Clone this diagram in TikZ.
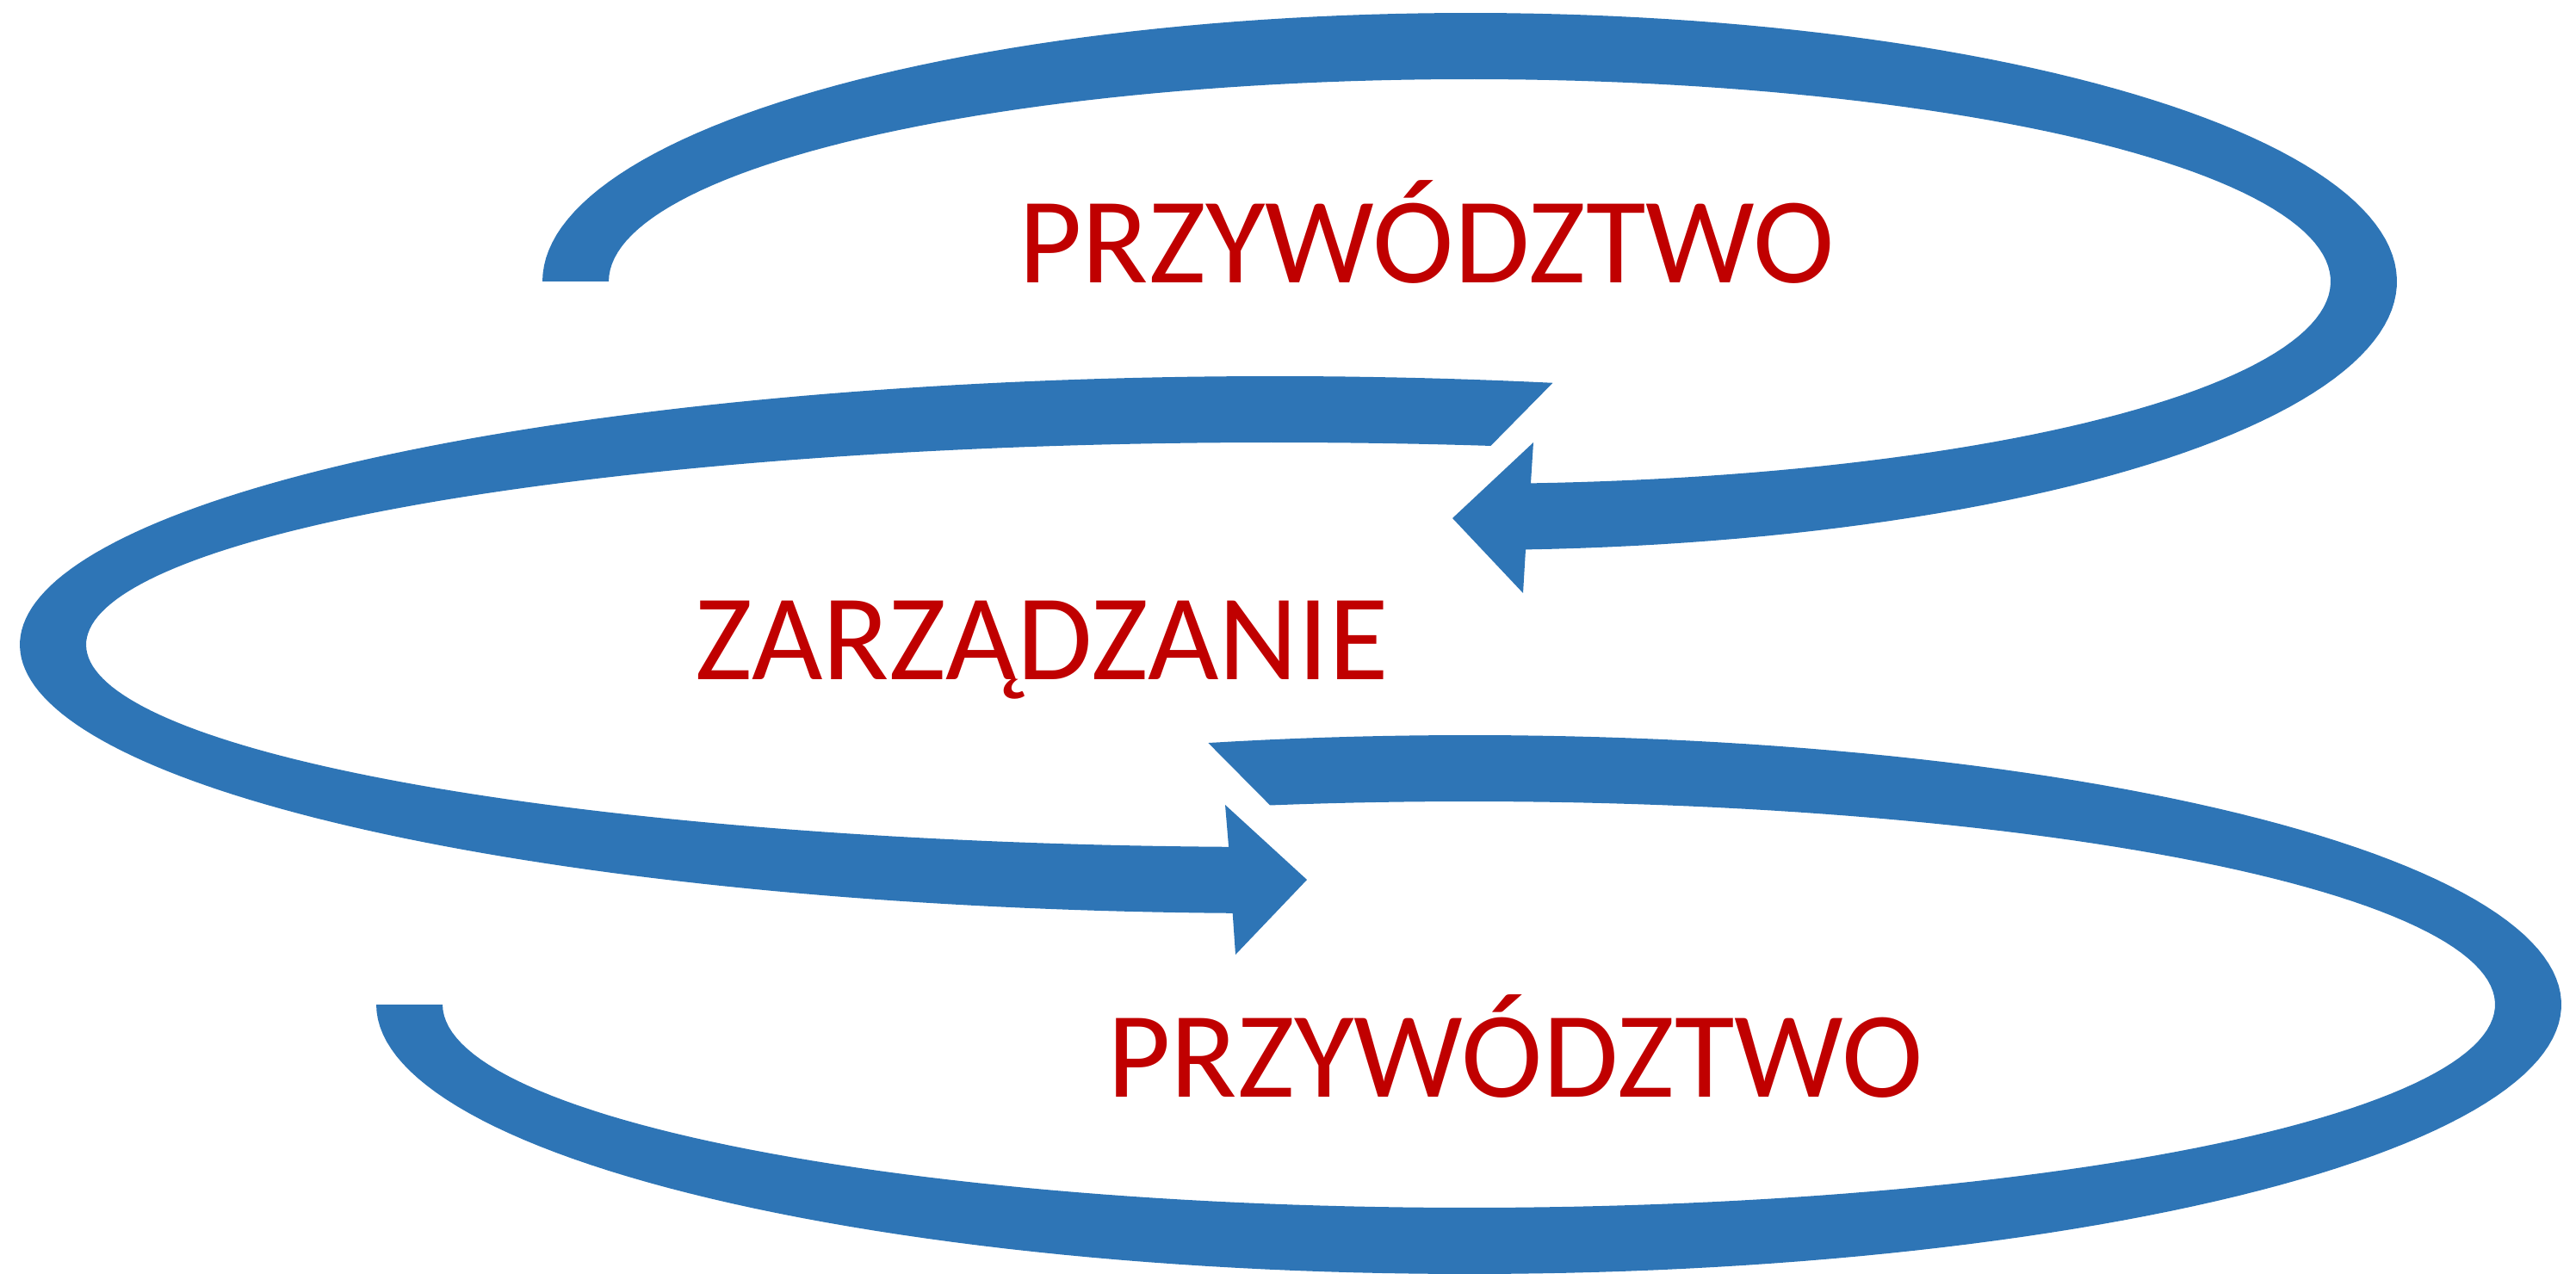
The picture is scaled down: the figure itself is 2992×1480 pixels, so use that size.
\documentclass[tikz,border=0pt]{standalone}
\usepackage{fontspec}
\setmainfont{Carlito}
\definecolor{arcblue}{HTML}{2E75B6}
\definecolor{txtred}{HTML}{C00000}
\begin{document}
\begin{tikzpicture}[x=0.01cm,y=-0.01cm,
  band/.style={fill=arcblue, draw=none},
  lbl/.style={text=txtred, font=\fontsize{40.5}{48}\selectfont, inner sep=0pt, anchor=base}]
\useasboundingbox (0,0) rectangle (2992,1480);
% top arc (arrow pointing left)
\fill[band] plot[domain=180:446.54, samples=160, variable=\t] ({1707+1077*cos(\t)},{327+312*sin(\t)})
  -- (1769,689) -- (1687,602) -- (1781,514)
  -- plot[domain=445.93:180, samples=160, variable=\t] ({1707+1000*cos(\t)},{327+235*sin(\t)}) -- cycle;
% middle arc (arrow pointing right)
\fill[band] plot[domain=282.83:91.9, samples=160, variable=\t] ({1480+1457*cos(\t)},{749+312*sin(\t)})
  -- (1435,1109) -- (1518,1022) -- (1423,935)
  -- plot[domain=92.2:280.5, samples=160, variable=\t] ({1480+1380*cos(\t)},{749+235*sin(\t)}) -- cycle;
% bottom arc
\fill[band] plot[domain=256.2:540, samples=180, variable=\t] ({1706+1269*cos(\t)},{1167+313*sin(\t)})
  -- plot[domain=540:258.83, samples=180, variable=\t] ({1706+1192*cos(\t)},{1167+236*sin(\t)}) -- cycle;
% labels
\node[lbl] (lead1) at (1657,329) {PRZYWÓDZTWO};
\node[lbl] (mgmt) at (1210,790) {ZARZĄDZANIE};
\node[lbl] (lead2) at (1760,1274) {PRZYWÓDZTWO};
\end{tikzpicture}
\end{document}
